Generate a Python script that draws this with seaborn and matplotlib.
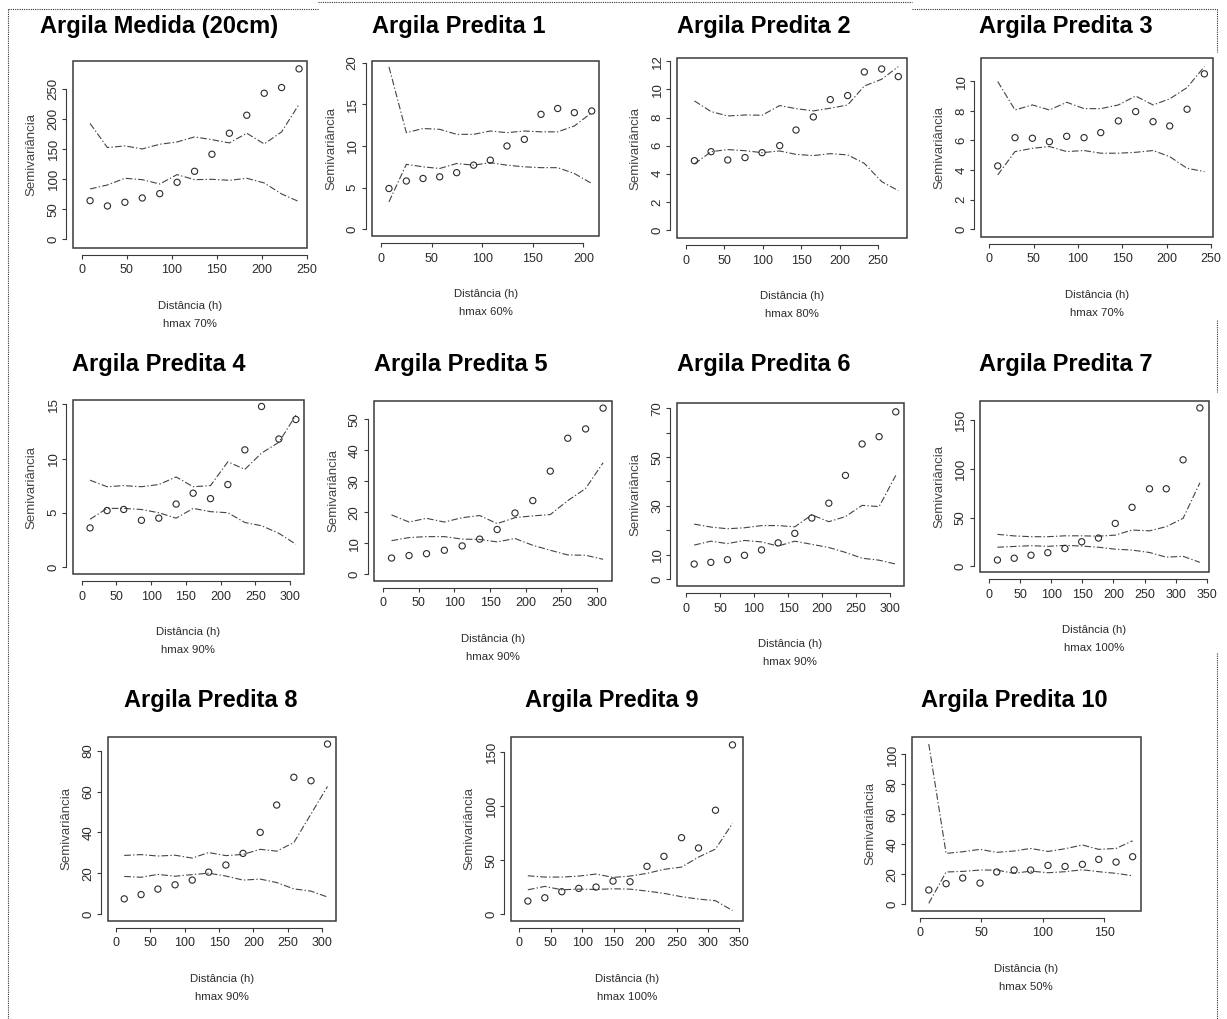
import matplotlib
matplotlib.use("Agg")
import matplotlib.pyplot as plt
from matplotlib.lines import Line2D
from matplotlib.patches import Rectangle
import seaborn as sns

W, H = 1227, 1019

# --- data (lag h, semivariance, envelope up / low) ---
H_MED = [9.3, 28.6, 48.0, 67.3, 86.7, 106.0, 125.4, 144.7, 164.1, 183.4, 202.8, 222.1, 241.5]
GAM_MED = [64.4, 55.6, 61.7, 68.9, 76.1, 95.0, 113.3, 141.7, 176.7, 206.7, 243.3, 252.8, 283.9]
UP_MED = [193.0, 152.8, 155.6, 150.6, 158.3, 162.2, 170.6, 166.0, 160.6, 176.7, 158.9, 178.9, 225.0]
LO_MED = [83.9, 90.6, 101.7, 99.4, 92.2, 107.8, 99.4, 100.0, 98.3, 101.7, 93.9, 75.6, 62.8]

H_P1 = [7.6, 24.8, 41.3, 57.8, 74.6, 91.4, 107.9, 124.4, 141.6, 158.1, 174.6, 191.1, 208.3]
GAM_P1 = [4.9, 5.8, 6.1, 6.3, 6.8, 7.7, 8.3, 10.0, 10.8, 13.8, 14.5, 14.0, 14.2]
UP_P1 = [19.5, 11.6, 12.1, 12.0, 11.4, 11.4, 11.8, 11.6, 11.8, 11.7, 11.7, 12.4, 14.0]
LO_P1 = [3.3, 7.8, 7.5, 7.3, 7.9, 7.7, 8.0, 7.7, 7.5, 7.4, 7.4, 6.7, 5.5]

H_P2 = [10.9, 32.6, 54.3, 76.8, 99.0, 122.0, 143.2, 165.8, 187.9, 210.5, 232.2, 254.8, 276.5]
GAM_P2 = [4.93, 5.57, 4.98, 5.15, 5.5, 6.0, 7.11, 8.04, 9.27, 9.56, 11.24, 11.45, 10.91]
UP_P2 = [9.18, 8.42, 8.11, 8.18, 8.16, 8.85, 8.63, 8.47, 8.66, 8.89, 10.24, 10.72, 11.62]
LO_P2 = [4.7, 5.57, 5.72, 5.64, 5.5, 5.62, 5.38, 5.29, 5.43, 5.34, 4.74, 3.44, 2.8]

H_P3 = [9.4, 28.9, 48.5, 67.7, 87.2, 106.8, 125.6, 145.5, 165.0, 184.6, 203.4, 223.0, 242.5]
GAM_P3 = [4.28, 6.19, 6.15, 5.92, 6.28, 6.19, 6.53, 7.32, 7.95, 7.27, 6.98, 8.11, 10.5]
UP_P3 = [9.98, 8.06, 8.4, 8.06, 8.58, 8.15, 8.15, 8.4, 9.0, 8.4, 8.81, 9.57, 10.99]
LO_P3 = [3.67, 5.25, 5.47, 5.59, 5.25, 5.32, 5.14, 5.14, 5.2, 5.32, 4.91, 4.12, 3.9]

H_P4 = [12.0, 36.5, 60.5, 86.0, 111.0, 136.0, 160.5, 185.5, 210.5, 235.0, 259.0, 284.0, 308.5]
GAM_P4 = [3.6, 5.2, 5.3, 4.3, 4.5, 5.8, 6.8, 6.3, 7.6, 10.8, 14.8, 11.8, 13.6]
UP_P4 = [8.0, 7.4, 7.5, 7.4, 7.6, 8.3, 7.4, 7.5, 9.7, 9.0, 10.5, 11.5, 14.0]
LO_P4 = [4.4, 5.4, 5.4, 5.3, 5.0, 4.5, 5.4, 5.1, 5.0, 4.1, 3.8, 3.1, 2.1]

H_P5 = [12.0, 36.5, 61.0, 86.0, 111.0, 135.5, 160.0, 185.0, 210.0, 234.5, 259.0, 284.0, 308.5]
GAM_P5 = [5.3, 6.1, 6.7, 7.8, 9.2, 11.4, 14.5, 19.8, 23.8, 33.3, 43.9, 46.9, 53.6]
UP_P5 = [19.2, 16.9, 18.1, 16.9, 18.3, 19.0, 16.4, 18.3, 18.9, 19.3, 23.8, 27.7, 36.0]
LO_P5 = [10.9, 11.9, 12.2, 12.2, 11.4, 11.3, 10.5, 11.6, 9.4, 7.8, 6.3, 6.2, 4.9]

H_P6 = [12.0, 36.5, 61.0, 86.0, 111.0, 135.5, 160.0, 185.0, 210.0, 234.5, 259.0, 284.0, 308.5]
GAM_P6 = [6.1, 6.8, 7.9, 9.7, 11.9, 14.8, 18.7, 25.0, 31.1, 42.5, 55.4, 58.4, 68.6]
UP_P6 = [22.5, 21.3, 20.6, 21.0, 21.9, 21.9, 21.4, 26.3, 23.5, 25.6, 30.2, 29.7, 42.5]
LO_P6 = [13.9, 15.5, 14.5, 15.8, 15.2, 13.5, 15.5, 14.2, 12.9, 10.9, 8.5, 7.7, 6.1]

H_P7 = [13.5, 40.5, 67.5, 94.5, 122.0, 149.0, 176.0, 203.0, 230.0, 258.0, 285.0, 312.0, 339.0]
GAM_P7 = [6.5, 8.3, 11.4, 14.0, 18.3, 25.2, 29.0, 44.0, 60.5, 79.5, 79.5, 109.2, 162.4]
UP_P7 = [32.8, 31.2, 30.4, 30.4, 31.3, 31.3, 30.9, 32.0, 37.2, 36.4, 40.7, 49.2, 85.6]
LO_P7 = [19.6, 20.4, 21.2, 20.5, 21.5, 20.8, 19.6, 17.6, 16.7, 14.2, 9.4, 10.3, 4.1]

H_P8 = [12.0, 36.5, 61.0, 86.0, 111.0, 135.0, 160.0, 185.0, 210.0, 234.0, 259.0, 284.0, 308.0]
GAM_P8 = [7.4, 9.5, 12.2, 14.3, 16.6, 20.5, 24.0, 29.7, 40.0, 53.4, 67.0, 65.3, 83.3]
UP_P8 = [28.7, 29.1, 28.4, 28.8, 27.4, 30.1, 28.6, 29.2, 31.7, 30.8, 35.0, 49.0, 62.5]
LO_P8 = [18.4, 18.0, 19.4, 18.5, 19.3, 20.0, 18.6, 16.6, 17.1, 15.4, 12.3, 11.2, 8.3]

H_P9 = [13.5, 40.5, 67.5, 94.5, 122.0, 149.0, 176.0, 203.0, 230.0, 258.0, 285.0, 312.0, 339.0]
GAM_P9 = [12.3, 15.3, 20.9, 24.0, 25.2, 30.7, 30.1, 44.3, 53.5, 70.7, 61.2, 96.0, 156.2]
UP_P9 = [35.6, 34.4, 34.4, 35.3, 37.2, 34.1, 35.3, 37.8, 41.5, 43.6, 52.8, 60.2, 83.8]
LO_P9 = [22.7, 25.8, 22.7, 23.3, 23.0, 23.6, 23.3, 21.5, 19.4, 16.3, 14.1, 12.6, 3.6]

H_P10 = [7.1, 21.2, 34.7, 48.8, 62.4, 76.5, 90.0, 104.1, 118.0, 132.1, 145.4, 159.5, 173.0]
GAM_P10 = [9.6, 13.8, 17.6, 14.2, 21.6, 22.9, 22.9, 26.0, 25.3, 26.7, 30.0, 28.2, 31.8]
UP_P10 = [106.9, 34.0, 35.1, 36.7, 34.7, 35.6, 37.3, 35.3, 37.1, 39.6, 36.7, 37.3, 42.4]
LO_P10 = [0.7, 21.6, 22.0, 22.9, 22.9, 20.7, 22.2, 21.1, 21.8, 23.1, 21.8, 20.7, 19.1]

TITLES = ["Argila Medida (20cm)"] + [f"Argila Predita {i}" for i in range(1, 11)]
HMAX = ["hmax 70%", "hmax 60%", "hmax 80%", "hmax 70%", "hmax 90%", "hmax 90%",
        "hmax 90%", "hmax 100%", "hmax 90%", "hmax 100%", "hmax 50%"]

X_TICKS = [range(0, 251, 50), range(0, 201, 50), range(0, 251, 50), range(0, 251, 50),
           range(0, 301, 50), range(0, 301, 50), range(0, 301, 50), range(0, 351, 50),
           range(0, 301, 50), range(0, 351, 50), range(0, 151, 50)]
Y_TICKS = [range(0, 251, 50), range(0, 21, 5), range(0, 13, 2), range(0, 11, 2),
           range(0, 16, 5), range(0, 51, 10), range(0, 71, 10), range(0, 151, 50),
           range(0, 81, 20), range(0, 151, 50), range(0, 101, 20)]
# R drops overlapping labels on the Predita 6 axis
Y_HIDDEN = {6: [20, 40, 60]}

SERIES = [(H_MED, GAM_MED, UP_MED, LO_MED), (H_P1, GAM_P1, UP_P1, LO_P1),
          (H_P2, GAM_P2, UP_P2, LO_P2), (H_P3, GAM_P3, UP_P3, LO_P3),
          (H_P4, GAM_P4, UP_P4, LO_P4), (H_P5, GAM_P5, UP_P5, LO_P5),
          (H_P6, GAM_P6, UP_P6, LO_P6), (H_P7, GAM_P7, UP_P7, LO_P7),
          (H_P8, GAM_P8, UP_P8, LO_P8), (H_P9, GAM_P9, UP_P9, LO_P9),
          (H_P10, GAM_P10, UP_P10, LO_P10)]

# --- layout (pixels in the 1227x1019 page) ---
BOXES = [(72.7, 306.7, 61, 247.7), (372, 599.3, 61, 236), (676.7, 907.3, 58.3, 238.3),
         (980.7, 1212.7, 58.3, 236.7), (72.7, 304, 400, 574.3), (374, 612, 401, 580.7),
         (676.7, 904, 403.3, 586), (980, 1209, 401, 572.3), (107.7, 336, 736.7, 920.7),
         (510.7, 742.7, 737.3, 920.7), (911.7, 1141, 736.7, 910.7)]
XLIMS = [(-10, 250), (-9.2, 215.8), (-12.2, 288.2), (-9.8, 251.9), (-13, 320.2), (-12.6, 321),
         (-13.7, 320.6), (-14.5, 353.7), (-12.1, 320.4), (-13.8, 355.3), (-6.8, 179.8)]
YLIMS = [(-13.9, 297), (-0.8, 20.2), (-0.59, 12.21), (-0.5, 11.55), (-0.68, 15.4), (-2.0, 55.9),
         (-2.9, 72.1), (-6.1, 169.5), (-3.3, 86.9), (-5.8, 163.2), (-4.2, 111.8)]
TITLE_POS = [(159, 26), (459, 26), (764, 26), (1066, 26), (159, 365), (461, 365),
             (764, 365), (1066, 365), (211, 700), (612, 700), (1014, 700)]

BOX_C = "#3a3a3a"
INK = "#2b2b2b"
DASHDOT = (0, (6, 2, 1.2, 2))

sns.set_style("white")
plt.rcParams["font.family"] = ["Liberation Sans", "DejaVu Sans"]

fig = plt.figure(figsize=(W / 100, H / 100), dpi=100)


def px_rect(left, right, top, bottom):
    return [left / W, 1 - bottom / H, (right - left) / W, (bottom - top) / H]


for k, (h, gam, up, lo) in enumerate(SERIES):
    left, right, top, bottom = BOXES[k]
    ax = fig.add_axes(px_rect(left, right, top, bottom))

    sns.lineplot(x=h, y=up, ax=ax, color="#444444", linewidth=0.8, linestyle=DASHDOT)
    sns.lineplot(x=h, y=lo, ax=ax, color="#444444", linewidth=0.8, linestyle=DASHDOT)
    sns.scatterplot(x=h, y=gam, ax=ax, s=20, facecolor="none", edgecolor=INK,
                    linewidth=0.8, zorder=3)

    ax.set_xlim(XLIMS[k])
    ax.set_ylim(YLIMS[k])

    xt = list(X_TICKS[k])
    yt = list(Y_TICKS[k])
    hidden = Y_HIDDEN.get(k, [])

    # R-style detached axes; spine moves reset the ticks, so do them first
    for side in ["top", "right"]:
        ax.spines[side].set_visible(False)
    ax.spines["bottom"].set_position(("outward", 5))
    ax.spines["bottom"].set_bounds(xt[0], xt[-1])
    ax.spines["left"].set_position(("outward", 4.5))
    ax.spines["left"].set_bounds(yt[0], yt[-1])
    for side in ["bottom", "left"]:
        ax.spines[side].set_color(BOX_C)
        ax.spines[side].set_linewidth(0.8)
    ax.add_patch(Rectangle((0, 0), 1, 1, transform=ax.transAxes, fill=False,
                           ec=BOX_C, lw=1.1, clip_on=False))

    ax.tick_params(direction="out", length=3, width=0.8, color=BOX_C,
                   bottom=True, left=True, labelcolor=INK)
    ax.tick_params(axis="x", pad=4)
    ax.tick_params(axis="y", pad=2)

    ax.set_xticks(xt, [str(t) for t in xt], fontsize=9)
    ax.set_yticks(yt, ["" if t in hidden else str(t) for t in yt], fontsize=9.5,
                  rotation=90, rotation_mode="default", va="center", ha="right")

    w_px = right - left
    h_px = bottom - top
    ax.set_ylabel("Semivariância", fontsize=9.5, color="#444444")
    ax.yaxis.set_label_coords(-35 / w_px, 0.5)
    ax.set_xlabel("Distância (h)", fontsize=8.2, color=INK)
    ax.xaxis.set_label_coords(0.5, -53 / h_px)
    ax.annotate(HMAX[k], xy=(0.5, 0), xycoords="axes fraction",
                xytext=(0, -76 * 0.72), textcoords="offset points",
                ha="center", va="center", fontsize=8.2, color=INK)

    tx, ty = TITLE_POS[k]
    fig.text(tx / W, 1 - ty / H, TITLES[k], ha="center", va="center",
             fontsize=17, fontweight="bold", color="black")

# dotted frame of the page around the panels
FRAME = [((8, 9), (8, 1019)), ((8, 9), (318, 9)), ((318, 2), (912, 2)), ((912, 9), (1217, 9)),
         ((1217, 9), (1217, 52)), ((1217, 320), (1217, 392)), ((1217, 653), (1217, 1019))]
for (x0, y0), (x1, y1) in FRAME:
    fig.add_artist(Line2D([x0 / W, x1 / W], [1 - y0 / H, 1 - y1 / H], transform=fig.transFigure,
                          linestyle=(0, (1, 1)), color="#333333", linewidth=0.8))

fig.savefig("out.png", dpi=100)
